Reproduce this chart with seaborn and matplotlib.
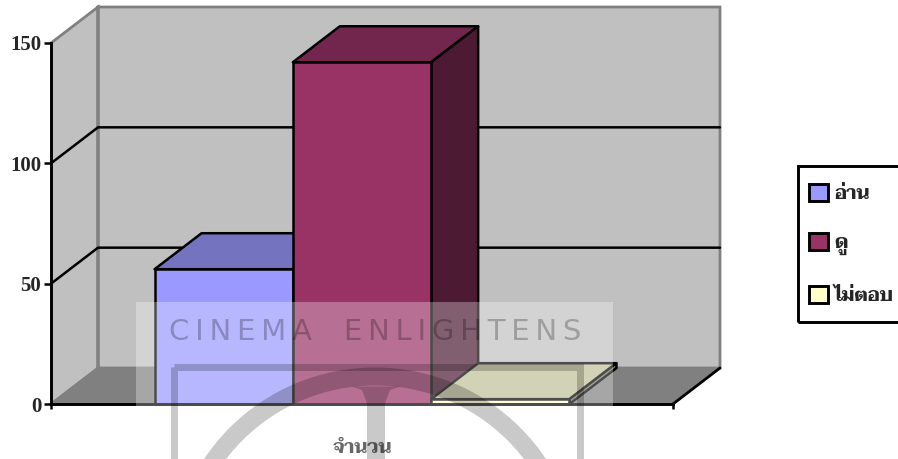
import logging

import pandas as pd
import matplotlib
matplotlib.use("Agg")
import matplotlib.pyplot as plt
from matplotlib.font_manager import FontProperties
from matplotlib.patches import Polygon, Rectangle, Wedge
import seaborn as sns

logging.getLogger("matplotlib.font_manager").setLevel(logging.ERROR)

# %%
# Data
category = ["จำนวน", "จำนวน", "จำนวน"]
series = ["อ่าน", "ดู", "ไม่ตอบ"]
values = [56, 142, 2]
yticks = [0, 50, 100, 150]

front_colors = ["#9999FF", "#993366", "#FFFFCC"]
top_colors = ["#7373BF", "#73264D", "#BFBF99"]
side_colors = ["#4D4D80", "#4D1A33", "#808066"]

W, H = 898, 459
WALL = "#C0C0C0"
FLOOR = "#808080"
LW = 1.8

thai = FontProperties(family=["Taviraj", "Trirong", "Noto Serif Thai", "Sarabun"], weight="bold", size=13.5)
latin = FontProperties(family="Liberation Serif", weight="bold", size=15)

# %%
sns.set_style("white")
fig = plt.figure(figsize=(W / 100, H / 100), dpi=100, facecolor="white")
ax = fig.add_axes([51 / W, (H - 404) / H, 622 / W, 361 / H])
ax.patch.set_visible(False)

df = pd.DataFrame({"category": category, "series": series, "value": values})
sns.barplot(data=df, x="category", y="value", hue="series", hue_order=series,
            palette=front_colors, width=0.667, gap=0, saturation=1,
            edgecolor="black", linewidth=LW, ax=ax, legend=True)
ax.set_xlim(-0.5, 0.5)
ax.set_ylim(0, 150)

# 3D depth of the box, in data units
dx = 47 / 622
dy = 36 / 361 * 150
x0, x1 = -0.5, 0.5

def face(pts, color, z, edge="none", lw=0):
    ax.add_patch(Polygon(pts, closed=True, facecolor=color, edgecolor=edge,
                         linewidth=lw, clip_on=False, zorder=z, joinstyle="round"))

# walls and floor
face([(x0, 0), (x0 + dx, dy), (x1 + dx, dy), (x1, 0)], FLOOR, 0.2)
face([(x0, 0), (x0, 150), (x0 + dx, 150 + dy), (x0 + dx, dy)], WALL, 0.2)
face([(x0 + dx, dy), (x0 + dx, 150 + dy), (x1 + dx, 150 + dy), (x1 + dx, dy)], WALL, 0.2)
ax.plot([x0, x0 + dx, x0 + dx, x1 + dx, x1 + dx, x0 + dx, x0 + dx, x0],
        [150, 150 + dy, dy, dy, 150 + dy, 150 + dy, dy, 0],
        color="#808080", lw=2, clip_on=False, zorder=0.5, solid_joinstyle="miter")
ax.plot([x1, x1 + dx], [0, dy], color="black", lw=LW + 0.2, clip_on=False, zorder=0.6)

# gridlines run across the side wall and the back wall
for v in yticks[1:-1]:
    ax.plot([x0, x0 + dx, x1 + dx], [v, v + dy, v + dy], color="black", lw=LW,
            clip_on=False, zorder=0.6)

# top and side of each bar, left to right so later bars cover earlier ones
for i, bar in enumerate(ax.patches[:len(values)]):
    left, right = bar.get_x(), bar.get_x() + bar.get_width()
    top = bar.get_height()
    z = 2 + i
    bar.set_zorder(z + 0.5)
    bar.set_clip_on(False)
    face([(left, top), (left + dx, top + dy), (right + dx, top + dy), (right, top)],
         top_colors[i], z, "black", LW)
    face([(right, 0), (right, top), (right + dx, top + dy), (right + dx, dy)],
         side_colors[i], z, "black", LW)

# axes
sns.despine(ax=ax, top=True, right=True)
ax.spines["left"].set(color="black", linewidth=2.1, zorder=8)
ax.spines["bottom"].set(color="black", linewidth=2.1, zorder=8)
ax.set_xlabel("")
ax.set_ylabel("")
ax.set_yticks(yticks)
ax.set_xticks([0])
ax.set_xticklabels(category[:1])
ax.set_xticks([x0, x1], minor=True)
ax.tick_params(axis="y", length=5, width=1.8, color="black", left=True, pad=2)
ax.tick_params(axis="x", which="minor", length=3.5, width=1.8, color="black", bottom=True)
ax.tick_params(axis="x", which="major", length=0, pad=26)
for lab in ax.get_yticklabels():
    lab.set_fontproperties(latin)
for lab in ax.get_xticklabels():
    lab.set_fontproperties(thai)

# legend, the frame runs off the right edge of the picture
handles, labels = ax.get_legend_handles_labels()
for h in handles:
    h.set_edgecolor("black")
    h.set_linewidth(2.1)
leg = ax.legend(handles, labels, loc="upper left", frameon=False, prop=thai,
                bbox_to_anchor=(809 / W, 1 - 184 / H), bbox_transform=fig.transFigure,
                borderpad=0, borderaxespad=0, handlelength=1.02, handleheight=1.02,
                handletextpad=0.32, labelspacing=1.62)
fig.add_artist(Rectangle((798 / W, 1 - 321.5 / H), 120 / W, 155.5 / H, fill=False,
                         edgecolor="black", linewidth=2.1, transform=fig.transFigure))

# %%
# Watermark over the whole chart
wm = fig.add_axes([0, 0, 1, 1], zorder=10)
wm.set_xlim(0, W)
wm.set_ylim(H, 0)
wm.axis("off")
wm.add_patch(Rectangle((136, 302), 476.5, 160, facecolor="white", alpha=0.3, linewidth=0))
wm.text(375, 331.5, "\u200a\u200a".join("CINEMA") + "\u2003\u200a" + "\u200a\u200a".join("ENLIGHTENS"),
        ha="center", va="center", family="DejaVu Sans", fontsize=21, color="black", alpha=0.25)
wm.add_patch(Rectangle((173.5, 366.5), 406.5, 200, fill=False, edgecolor="black",
                       alpha=0.21, linewidth=5))
wm.add_patch(Wedge((375, 573), 205.5, 0, 360, width=18, facecolor="black", alpha=0.21, linewidth=0))
wm.add_patch(Polygon([(352, 386.5), (362, 390), (367, 403), (367, 462), (385, 462),
                      (385, 403), (390, 390), (400, 386.5)],
                     closed=True, facecolor="black", alpha=0.21, linewidth=0))

fig.savefig("out.png", dpi=100)
